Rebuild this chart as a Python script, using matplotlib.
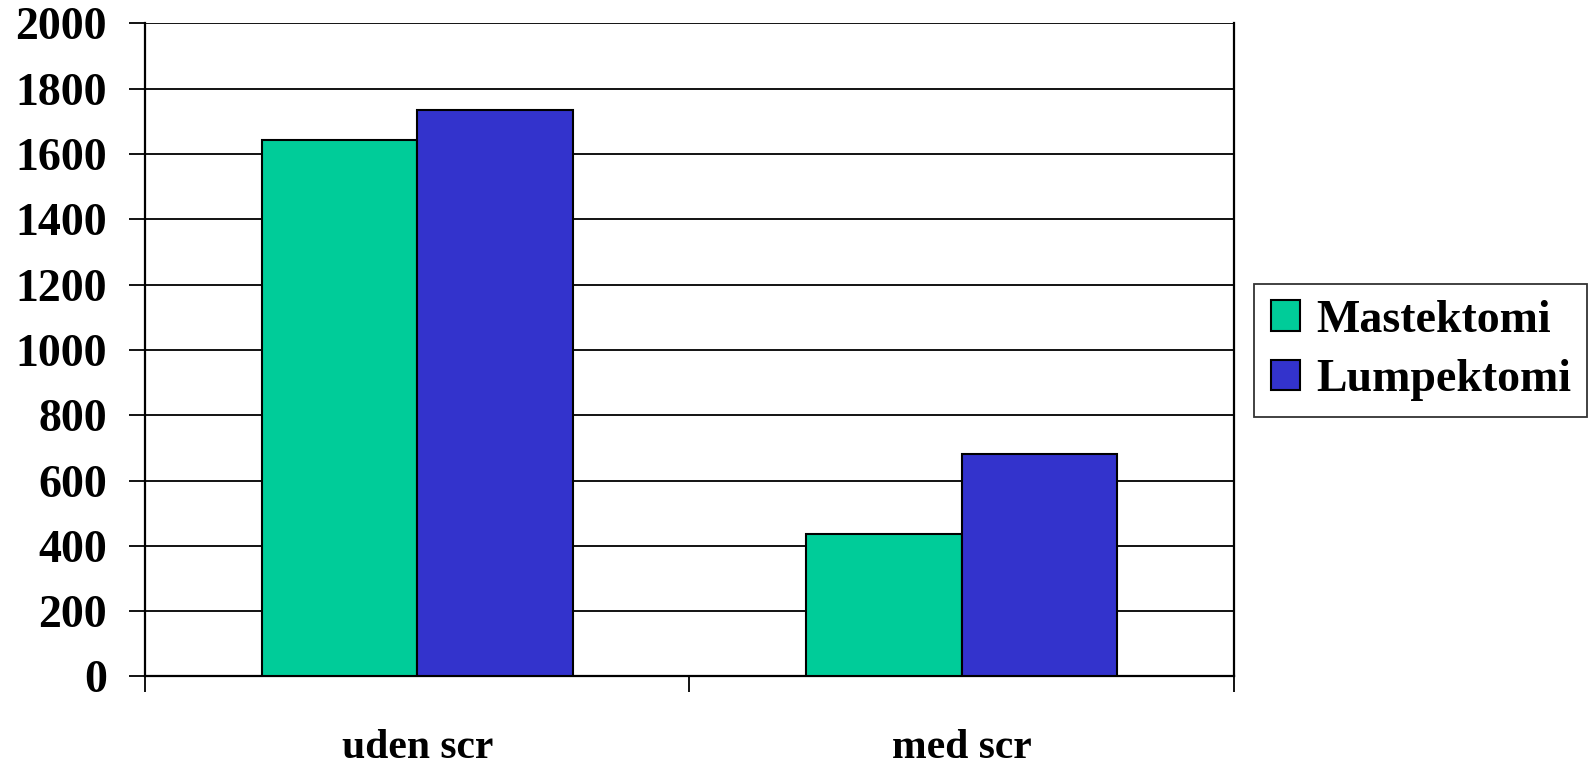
#!/usr/bin/env python
"""Mastektomi vs lumpektomi, uden/med screening."""
import matplotlib
matplotlib.use('Agg')
import matplotlib.pyplot as plt
import numpy as np

categories = ['uden scr', 'med scr']
series = ['Mastektomi', 'Lumpektomi']
mastektomi = [1642, 435]
lumpektomi = [1734, 681]
colors = ['#00CC99', '#3333CC']
yticks = [0, 200, 400, 600, 800, 1000, 1200, 1400, 1600, 1800, 2000]

plt.rcParams['font.family'] = ['Liberation Serif', 'DejaVu Serif']
plt.rcParams['font.weight'] = 'bold'

fig = plt.figure(figsize=(15.94, 7.71), dpi=100)
ax = fig.add_axes([0.091, 0.1226, 0.683, 0.847])

x = np.arange(len(categories))
width = 1 / 3.5
for k, (vals, name) in enumerate(zip([mastektomi, lumpektomi], series)):
    ax.bar(x + (k - 0.5) * width, vals, width, color=colors[k],
           edgecolor='black', linewidth=1.5, label=name, zorder=3)

ax.set_xlim(-0.5, len(categories) - 0.5)
ax.set_ylim(0, 2000)
ax.set_yticks(yticks)
ax.set_yticklabels([str(v) for v in yticks], fontsize=33, fontweight='bold')
ax.yaxis.grid(True, color='black', linewidth=1.3, zorder=0)
ax.set_axisbelow(True)

ax.set_xticks(np.arange(-0.5, len(categories)))
ax.set_xticklabels([])
ax.set_xticks(x, minor=True)
ax.set_xticklabels(categories, minor=True, fontsize=30, fontweight='bold')
ax.tick_params(axis='x', which='major', direction='out', length=11.5,
               width=1.3, color='black')
ax.tick_params(axis='x', which='minor', length=0, pad=38)
ax.tick_params(axis='y', direction='out', length=11.5, width=1.3, pad=16)

ax.spines['top'].set_visible(False)
for side in ['left', 'right', 'bottom']:
    ax.spines[side].set_linewidth(1.6)
    ax.spines[side].set_color('black')

leg = ax.legend(loc='center left', bbox_to_anchor=(0.787, 0.5454),
                bbox_transform=fig.transFigure, fontsize=33, frameon=True,
                fancybox=False, shadow=False, handlelength=0.65,
                handleheight=0.65, handletextpad=0.35, borderpad=0.35,
                labelspacing=0.38, borderaxespad=0)
leg.get_frame().set_edgecolor('black')
leg.get_frame().set_linewidth(1.3)
for t in leg.get_texts():
    t.set_fontweight('bold')

plt.savefig('out.png', dpi=100)
